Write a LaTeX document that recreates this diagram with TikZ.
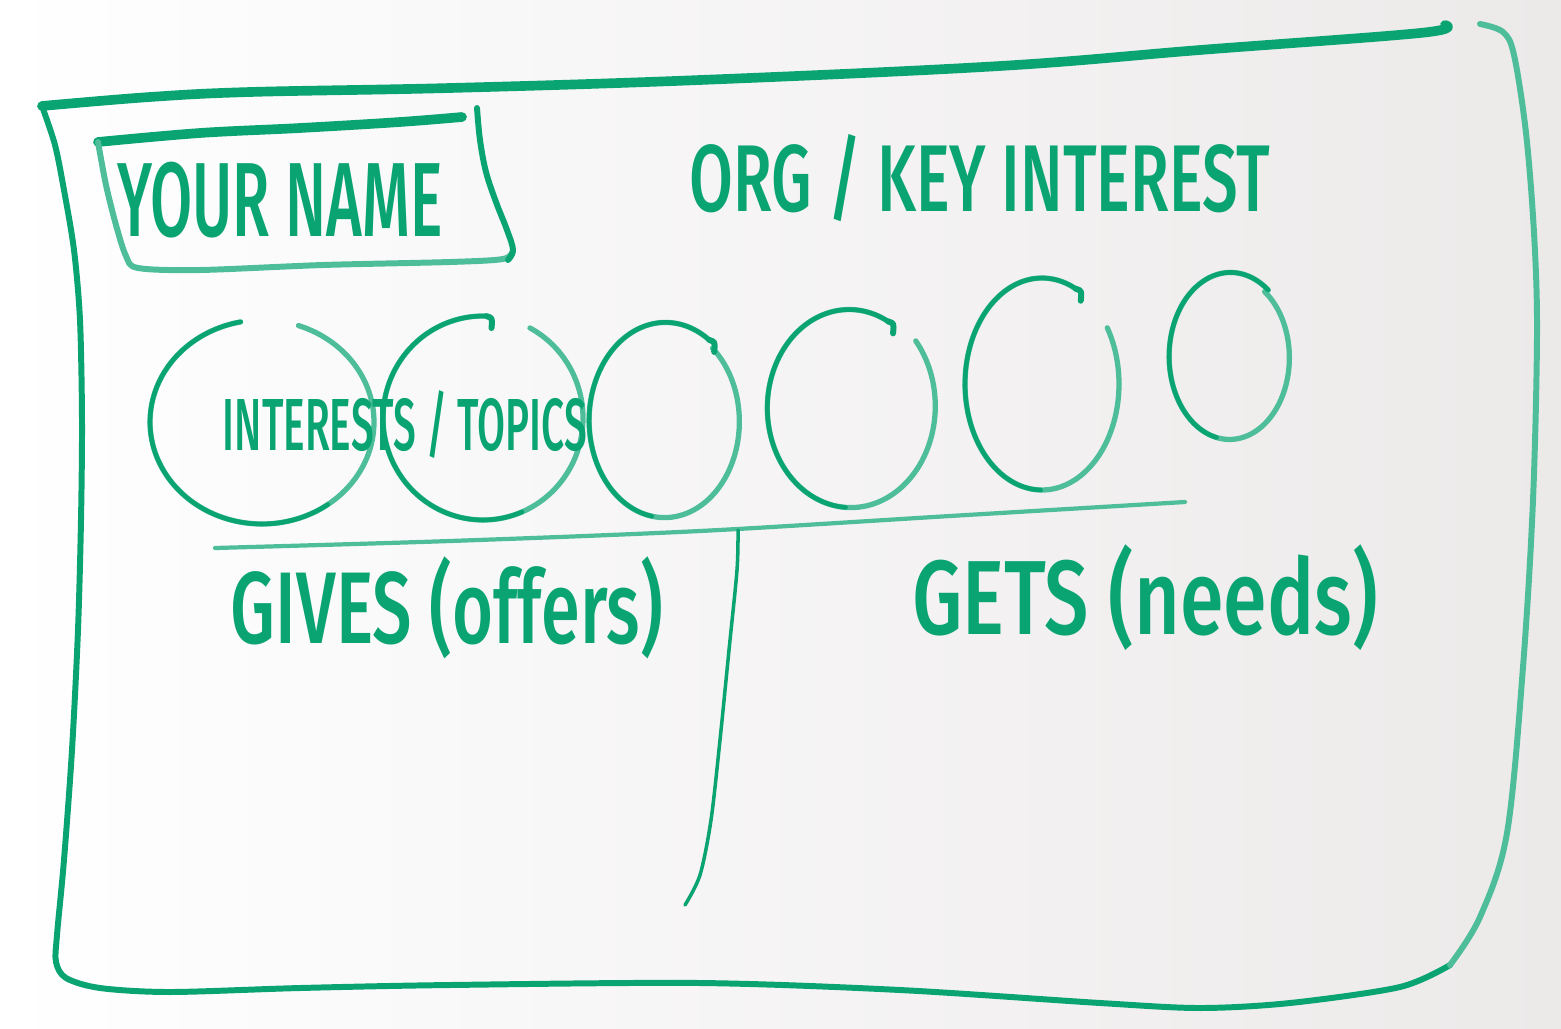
\documentclass[tikz,border=0pt]{standalone}
\usepackage{fontspec}
\usepackage{graphicx}
\setmainfont{Fira Sans}[BoldFont={Fira Sans Medium}]
\definecolor{marker}{RGB}{10,164,114}
\definecolor{markerlight}{RGB}{78,190,154}
\definecolor{board}{RGB}{236,233,233}
% marker lettering: horizontal squeeze, point size, text
\newcommand{\handtext}[3]{\scalebox{#1}[1]{\fontsize{#2}{#2}\selectfont\bfseries #3}}
\tikzset{
  pen/.style={draw=marker, line width=3.4pt, line cap=round, line join=round},
  thickpen/.style={draw=marker, line width=5.5pt, line cap=round, line join=round},
  thinpen/.style={draw=markerlight, line width=2.4pt, line cap=round, line join=round},
  ringpen/.style={draw=markerlight, line width=3pt, line cap=round},
  ringdark/.style={draw=marker, line width=2.6pt, line cap=round, line join=round},
  label/.style={text=marker, inner sep=0pt, anchor=center},
}
\begin{document}
\begin{tikzpicture}[x=0.02cm, y=-0.02cm]
  % whiteboard
  \useasboundingbox (0,0) rectangle (1561,1028);
  \shade[left color=white, right color=board] (0,0) rectangle (1561,1028);

  % outer card outline
  \draw[thickpen] plot[smooth, tension=0.6] coordinates
    {(42,106) (150,97) (250,92) (450,88) (700,80) (1000,66) (1200,50) (1420,33) (1445,25)};
  \draw[pen] plot[smooth, tension=0.5] coordinates
    {(42,106) (55,145) (64,190) (74,250) (80,320) (82,420) (81,520) (78,630) (72,750) (64,860) (57,935) (56,962)
     (66,978) (100,988) (170,992) (300,988) (450,985) (700,983) (900,990) (1100,1003) (1200,1008)
     (1290,1003) (1400,987) (1450,965)};
  \draw[pen, draw=markerlight] plot[smooth, tension=0.55] coordinates
    {(1450,965) (1480,917) (1507,833) (1523,667) (1533,500) (1537,333) (1534,233) (1526,133) (1514,55) (1503,32) (1480,24)};

  % name box
  \draw[thickpen] plot[smooth, tension=0.6] coordinates {(98,142) (200,133) (300,128) (400,122) (462,117)};
  \draw[pen, draw=markerlight] plot[smooth, tension=0.5] coordinates
    {(98,142) (106,185) (116,225) (126,256) (138,268) (200,270) (323,265) (450,262) (503,259) (513,251)};
  \draw[pen] plot[smooth, tension=0.6] coordinates
    {(477,108) (480,140) (486,172) (496,202) (507,230) (513,250) (508,260)};
  \node[label] (name) at (280,200) {\handtext{0.58}{60}{YOUR NAME}};

  % heading
  \node[label] (org) at (980,178) {\handtext{0.67}{54}{ORG / KEY INTEREST}};

  % interest bubbles: centre, radii, open stroke from/to (screen angles),
  % radius drift along the stroke, hook at the start (1) or not (0)
  \foreach \cx/\cy/\rx/\ry/\a/\b/\k/\h in
      {262/422/112/102/101/431/0/0,
       483/418/100/102/88/422/0/1,
       665/421/77/99/55/410/-0.04/1,
       850/407/81/97/62/400/0.06/1,
       1042/384/77/106/64/392/0/1,
       1230/357/62/85/52/414/-0.05/0}{
    \draw[ringpen] plot[smooth, domain=\a:\b, samples=80, variable=\t]
      ({\cx+\rx*(1+\k*(\t-\a)/(\b-\a))*cos(\t)}, {\cy-\ry*(1+\k*(\t-\a)/(\b-\a))*sin(\t)});
    \draw[ringdark] plot[smooth, domain=\a:{\a+205}, samples=50, variable=\t]
      ({\cx+\rx*(1+\k*(\t-\a)/(\b-\a))*cos(\t)}, {\cy-\ry*(1+\k*(\t-\a)/(\b-\a))*sin(\t)});
    \ifnum\h=1
      \draw[ringdark, line width=3.4pt] ({\cx+\rx*cos(\a)}, {\cy-\ry*sin(\a)})
        .. controls +(6,2) .. ++(5,12);
    \fi
  }
  \coordinate (b1) at (262,422);
  \coordinate (b2) at (483,418);
  \node[label] (topics) at (405,425) {\handtext{0.55}{42}{INTERESTS / TOPICS}};

  % dividers
  \coordinate (hl) at (215,548);
  \coordinate (hr) at (1185,502);
  \draw[thinpen] plot[smooth, tension=0.5] coordinates {(hl) (450,541) (700,531) (950,516) (hr)};
  \coordinate (vt) at (738,530);
  \coordinate (vb) at (685,905);
  \draw[thinpen, draw=marker, line width=2pt] plot[smooth, tension=0.5] coordinates
    {(vt) (737,570) (729,650) (720,740) (711,820) (700,875) (vb)};

  % column headings
  \node[label] (gives) at (447,608) {\handtext{0.69}{58}{GIVES (offers)}};
  \node[label] (gets) at (1145,598) {\handtext{0.75}{60}{GETS (needs)}};
\end{tikzpicture}
\end{document}
